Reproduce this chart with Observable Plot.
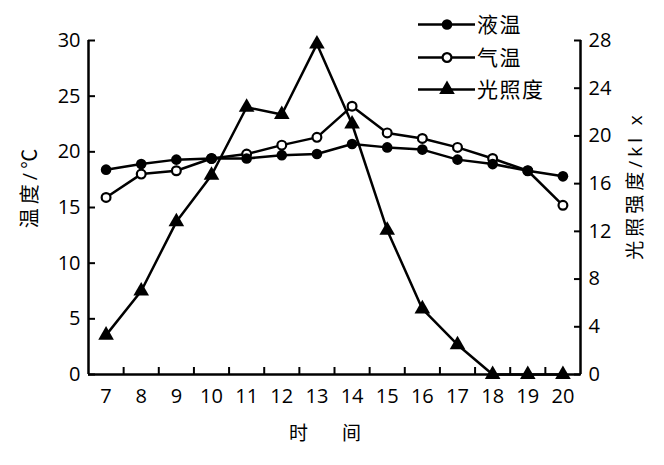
<!DOCTYPE html>
<html>
<head>
<meta charset="utf-8">
<script src="https://cdn.jsdelivr.net/npm/d3@7"></script>
<script src="https://cdn.jsdelivr.net/npm/@observablehq/plot@0.6"></script>
<style>
  body { margin: 0; background: #fff; }
  #wrap { position: relative; width: 664px; height: 465px; font-family: "Open Sans", "Noto Sans CJK SC", sans-serif; }
  #wrap svg { position: absolute; left: 0; top: 0; }
</style>
</head>
<body>
<div id="wrap"></div>
<script>
// ---- data ----
const hours = [7, 8, 9, 10, 11, 12, 13, 14, 15, 16, 17, 18, 19, 20];
const liquidTemp = [18.4, 18.9, 19.3, 19.4, 19.4, 19.7, 19.8, 20.7, 20.4, 20.2, 19.3, 18.9, 18.3, 17.8];
const airTemp = [15.9, 18.0, 18.3, 19.4, 19.8, 20.6, 21.3, 24.1, 21.7, 21.2, 20.4, 19.4, 18.3, 15.2];
const light = [3.3, 7.0, 12.8, 16.7, 22.4, 21.8, 27.7, 21.0, 12.1, 5.5, 2.5, 0, 0, 0];
const seriesNames = ["液温", "气温", "光照度"];
const tempTicks = [0, 5, 10, 15, 20, 25, 30];
const lightTicks = [0, 4, 8, 12, 16, 20, 24, 28];
const xTickMarks = [7.5, 8.5, 9.5, 10.5, 11.5, 12.5, 13.5, 14.5, 15.5, 16.5, 17.5, 18.5, 19.5];
const leftTitle = "温度/℃";
const rightTitle = "光照强度/kl x";
const xTitle = ["时", "间"];

const tempMax = 30, lightMax = 28;
const toTemp = v => v * tempMax / lightMax;

const liquidData = hours.map((h, i) => ({h, v: liquidTemp[i]}));
const airData = hours.map((h, i) => ({h, v: airTemp[i]}));
const lightData = hours.map((h, i) => ({h, v: toTemp(light[i])}));

const FS = 20;
const plot = Plot.plot({
  width: 664, height: 465,
  marginLeft: 88, marginRight: 84, marginTop: 40, marginBottom: 91,
  style: {fontFamily: '"Open Sans", "Noto Sans CJK SC", sans-serif', fontSize: FS + "px", color: "#000", background: "#fff"},
  x: {domain: [6.5, 20.5]},
  y: {domain: [0, 30]},
  marks: [
    // axis lines
    Plot.ruleX([6.5, 20.5], {stroke: "#000", strokeWidth: 2.5}),
    Plot.ruleY([0], {stroke: "#000", strokeWidth: 2.5}),
    // left axis: inward ticks + labels
    Plot.axisY(tempTicks, {anchor: "left", tickSize: 7, dx: 7, strokeWidth: 2, tickFormat: () => "", label: null}),
    Plot.axisY(tempTicks, {anchor: "left", tickSize: 0, tickPadding: 8, fontSize: FS, label: null}),
    // right axis (light, mapped into temp scale)
    Plot.axisY(lightTicks.map(toTemp), {anchor: "right", tickSize: 7, dx: -7, strokeWidth: 2, tickFormat: () => "", label: null}),
    Plot.axisY(lightTicks.map(toTemp), {anchor: "right", tickSize: 0, tickPadding: 8, fontSize: FS, label: null,
      tickFormat: d => String(Math.round(d * lightMax / tempMax))}),
    // x axis: inward ticks between hours + hour labels
    Plot.axisX(xTickMarks, {anchor: "bottom", tickSize: 7, dy: -7, strokeWidth: 2, tickFormat: () => "", label: null}),
    Plot.axisX(hours, {anchor: "bottom", tickSize: 0, tickPadding: 14, fontSize: FS, label: null}),
    // series
    Plot.line(lightData, {x: "h", y: "v", stroke: "#000", strokeWidth: 2.5}),
    Plot.line(airData, {x: "h", y: "v", stroke: "#000", strokeWidth: 2.5}),
    Plot.line(liquidData, {x: "h", y: "v", stroke: "#000", strokeWidth: 2.5}),
    Plot.dot(lightData, {x: "h", y: "v", symbol: "triangle", r: 5.8, fill: "#000", stroke: "none"}),
    Plot.dot(airData, {x: "h", y: "v", r: 4.4, fill: "#fff", stroke: "#000", strokeWidth: 2.2}),
    Plot.dot(liquidData, {x: "h", y: "v", r: 5.3, fill: "#000", stroke: "none"}),
    // axis titles
    Plot.text([leftTitle], {frameAnchor: "left", textAnchor: "middle", rotate: -90, dx: -58, dy: -21, fontSize: FS, fill: "#000"}),
    Plot.text([rightTitle], {frameAnchor: "right", textAnchor: "middle", rotate: -90, dx: 55, dy: -22, fontSize: 19, fill: "#000"}),
    Plot.text([xTitle[0]], {frameAnchor: "bottom", dx: -36, dy: 65, fontSize: 19, fill: "#000"}),
    Plot.text([xTitle[1]], {frameAnchor: "bottom", dx: 17, dy: 65, fontSize: 19, fill: "#000"})
  ]
});
d3.select(plot).selectAll("text")
  .filter(function() { return this.textContent === leftTitle || this.textContent === rightTitle; })
  .attr("letter-spacing", 4);
document.getElementById("wrap").appendChild(plot);

// legend overlay
const leg = d3.select("#wrap").append("svg").attr("width", 664).attr("height", 465)
  .style("pointer-events", "none");
const rowsY = [24.5, 57.5, 89.5];
const symbols = [
  g => g.append("circle").attr("r", 5.3).attr("fill", "#000"),
  g => g.append("circle").attr("r", 4.4).attr("fill", "#fff").attr("stroke", "#000").attr("stroke-width", 2.2),
  g => g.append("path").attr("d", d3.symbol(d3.symbolTriangle, Math.PI * 5.8 * 5.8)()).attr("fill", "#000")
];
seriesNames.forEach((name, i) => {
  const g = leg.append("g").attr("transform", `translate(0,${rowsY[i]})`);
  g.append("line").attr("x1", 418).attr("x2", 475).attr("stroke", "#000").attr("stroke-width", 2.5);
  symbols[i](g.append("g").attr("transform", "translate(447,0)"));
  g.append("text").attr("x", 477).attr("dy", "0.36em").attr("font-size", 21)
    .attr("letter-spacing", 1.5)
    .attr("font-family", '"Noto Sans CJK SC", sans-serif').text(name);
});
</script>
</body>
</html>
